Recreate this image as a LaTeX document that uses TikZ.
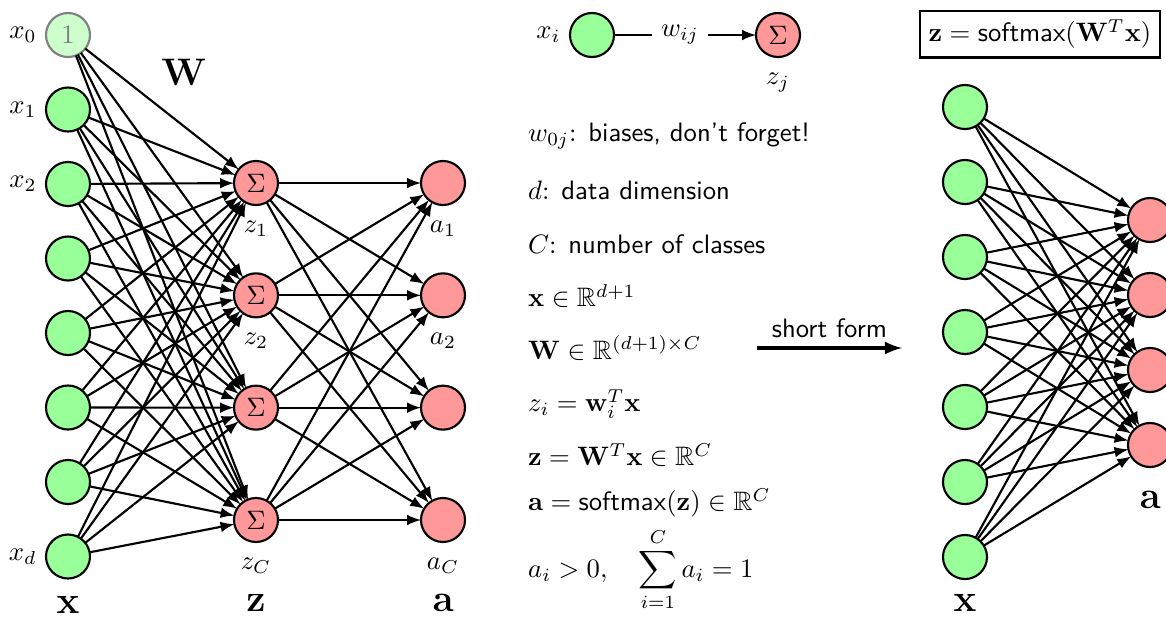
\documentclass[tikz,border=0pt]{standalone}
\usepackage{amsmath}
\usepackage{amssymb}
\usepackage{amsfonts}
\usepackage{tikz, tkz-graph}
\usepackage[svgnames]{xcolor}

\begin{document}
\begin{tikzpicture}[x=0.375pt, y=-0.375pt]
      \useasboundingbox (0,0) rectangle (1166,619);
        \GraphInit[vstyle=Normal]
        \tikzset{VertexStyle/.style={circle, draw=black, thick, fill=green!40, minimum size=16.5pt, inner sep=0pt}}
        \tikzset{LabelStyle/.style={inner sep=0pt}}
        \tikzset{notation/.style={anchor=west, inner sep=1pt}}
        % input layer
        \begin{scope}
        \tikzset{VertexStyle/.append style={fill=green!20, draw=gray, text=gray}}
        \Vertex[x=68, y=35, L={$1$}]{x0}
        \end{scope}
        \foreach \i in {1,...,7}{
          \pgfmathsetmacro\yy{35+74.5*\i}
          \Vertex[x=68, y=\yy, NoLabel]{x\i}
        }
        \node[anchor=east] (lx0) at (x0.west) {$x_0$};
        \node[anchor=east] (lx1) at (x1.west) {$x_1$};
        \node[anchor=east] (lx2) at (x2.west) {$x_2$};
        \node[anchor=east] (lxd) at (x7.west) {$x_d$};
        % sums and outputs
        \begin{scope}
        \tikzset{VertexStyle/.append style={fill=red!40}}
        \foreach \j in {1,...,4}{
          \pgfmathsetmacro\yy{183+112.33*(\j-1)}
          \Vertex[x=256, y=\yy, L={$\Sigma$}]{z\j}
          \Vertex[x=443, y=\yy, NoLabel]{a\j}
        }
        \end{scope}
        \node[anchor=north, yshift=-2.5pt] (lz1) at (z1.south) {$z_1$};
        \node[anchor=north, yshift=-2.5pt] (lz2) at (z2.south) {$z_2$};
        \node[anchor=north, yshift=-2.5pt] (lzC) at (z4.south) {$z_C$};
        \node[anchor=north, yshift=-2.5pt] (la1) at (a1.south) {$a_1$};
        \node[anchor=north, yshift=-2.5pt] (la2) at (a2.south) {$a_2$};
        \node[anchor=north, yshift=-2.5pt] (laC) at (a4.south) {$a_C$};
        \node (W) at (184,72) {\Large$\mathbf{W}$};
        \node (xvec) at (68,605) {\Large$\mathbf{x}$};
        \node (zvec) at (256,603) {\Large$\mathbf{z}$};
        \node (avec) at (443,603) {\Large$\mathbf{a}$};
        \tikzstyle{EdgeStyle}=[draw, color=black, thick, ->, >=latex]
        \foreach \i in {0,...,7}{\foreach \j in {1,...,4}{\Edge(x\i)(z\j)}}
        \foreach \i in {1,...,4}{\foreach \j in {1,...,4}{\Edge(z\i)(a\j)}}
        % one weight
        \Vertex[x=592, y=35, NoLabel]{xi}
        \begin{scope}
        \tikzset{VertexStyle/.append style={fill=red!40}}
        \Vertex[x=778, y=35, L={$\Sigma$}]{zj}
        \end{scope}
        \node[anchor=east] (lxi) at (xi.west) {$x_i$};
        \node[anchor=north, yshift=-2.5pt] (lzj) at (zj.south) {$z_j$};
        \node (wij) at (680,35) {$w_{ij}$};
        \draw[thick] (xi) -- (wij);
        \draw[thick, ->, >=latex] (wij) -- (zj);
        % notation
        \node[notation] (bias) at (525,136) {$w_{0j}$: \textsf{biases, don't forget!}};
        \node[notation] (ddim) at (525,190) {$d$: \textsf{data dimension}};
        \node[notation] (ncls) at (525,244) {$C$: \textsf{number of classes}};
        \node[notation] (xdom) at (525,296) {$\mathbf{x}\in\mathbb{R}^{d+1}$};
        \node[notation] (Wdom) at (525,348) {$\mathbf{W}\in\mathbb{R}^{(d+1)\times C}$};
        \node[notation] (zdef) at (525,404) {$z_i=\mathbf{w}_i^T\mathbf{x}$};
        \node[notation] (zall) at (525,455) {$\mathbf{z}=\mathbf{W}^T\mathbf{x}\in\mathbb{R}^C$};
        \node[notation] (adef) at (525,503) {$\mathbf{a}=\mathsf{softmax}(\mathbf{z})\in\mathbb{R}^C$};
        \node[notation] (asum) at (525,570) {$a_i>0,\quad\displaystyle\sum_{i=1}^C a_i=1$};
        % short form
        \coordinate (sfa) at (757,348);
        \coordinate (sfb) at (902,348);
        \draw[very thick, ->, >=latex] (sfa) -- node[above] (sflab) {\textsf{short form}} (sfb);
        \node[draw, thick] (zbox) at (1040,34) {$\mathbf{z}=\mathsf{softmax}(\mathbf{W}^T\mathbf{x})$};
        \foreach \i in {1,...,7}{
          \pgfmathsetmacro\yy{32+75*\i}
          \Vertex[x=965, y=\yy, NoLabel]{s\i}
        }
        \begin{scope}
        \tikzset{VertexStyle/.append style={fill=red!40}}
        \foreach \j in {1,...,4}{
          \pgfmathsetmacro\yy{145+75*\j}
          \Vertex[x=1150, y=\yy, NoLabel]{t\j}
        }
        \end{scope}
        \foreach \i in {1,...,7}{\foreach \j in {1,...,4}{\Edge(s\i)(t\j)}}
        \node (sxvec) at (965,603) {\Large$\mathbf{x}$};
        \node (savec) at (1150,500) {\Large$\mathbf{a}$};
    \end{tikzpicture}
\end{document}
